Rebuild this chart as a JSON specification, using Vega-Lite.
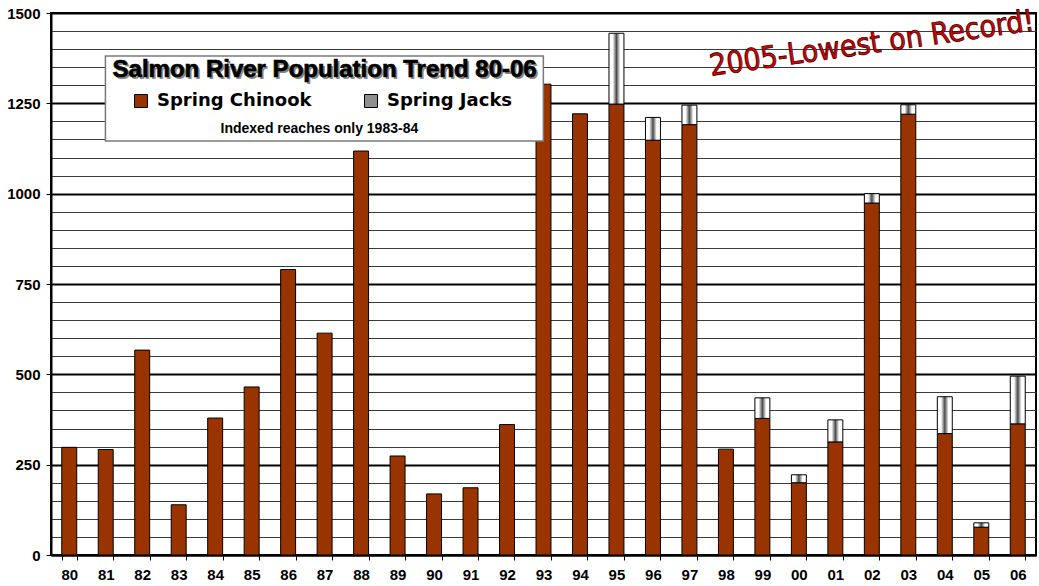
{
  "$schema": "https://vega.github.io/schema/vega-lite/v6.json",
  "autosize": {"type": "none"},
  "width": 985,
  "height": 542,
  "padding": {"left": 51, "top": 13, "right": 3, "bottom": 31},
  "background": "white",
  "config": {
    "view": {"stroke": "black", "strokeWidth": 2},
    "axis": {"labelFont": "Liberation Sans", "labelFontWeight": "bold", "labelColor": "black", "title": null}
  },
  "data": {"values": [
    {"year": "80", "chinook": 298, "total": 298},
    {"year": "81", "chinook": 292, "total": 292},
    {"year": "82", "chinook": 567, "total": 567},
    {"year": "83", "chinook": 139, "total": 139},
    {"year": "84", "chinook": 379, "total": 379},
    {"year": "85", "chinook": 465, "total": 465},
    {"year": "86", "chinook": 790, "total": 790},
    {"year": "87", "chinook": 614, "total": 614},
    {"year": "88", "chinook": 1118, "total": 1118},
    {"year": "89", "chinook": 274, "total": 274},
    {"year": "90", "chinook": 169, "total": 169},
    {"year": "91", "chinook": 186, "total": 186},
    {"year": "92", "chinook": 361, "total": 361},
    {"year": "93", "chinook": 1303, "total": 1303},
    {"year": "94", "chinook": 1221, "total": 1221},
    {"year": "95", "chinook": 1248, "total": 1444},
    {"year": "96", "chinook": 1148, "total": 1211},
    {"year": "97", "chinook": 1191, "total": 1245},
    {"year": "98", "chinook": 293, "total": 293},
    {"year": "99", "chinook": 378, "total": 435},
    {"year": "00", "chinook": 200, "total": 222},
    {"year": "01", "chinook": 313, "total": 374},
    {"year": "02", "chinook": 974, "total": 1000},
    {"year": "03", "chinook": 1220, "total": 1246},
    {"year": "04", "chinook": 336, "total": 438},
    {"year": "05", "chinook": 77, "total": 89},
    {"year": "06", "chinook": 363, "total": 495}
  ]},
  "layer": [
    {
      "mark": {"type": "bar", "stroke": "black", "strokeWidth": 1},
      "encoding": {
        "x": {
          "field": "year", "type": "nominal", "sort": null,
          "scale": {"type": "band", "paddingInner": 0.59, "paddingOuter": 0.295,
            "domain": ["80","81","82","83","84","85","86","87","88","89","90","91","92","93","94","95","96","97","98","99","00","01","02","03","04","05","06"]},
          "axis": {"labelAngle": 0, "labelFontSize": 15, "tickBand": "extent", "tickSize": 5, "tickColor": "black", "tickWidth": 1,
            "domainColor": "black", "domainWidth": 2, "labelPadding": 7, "grid": false}
        },
        "y": {
          "field": "chinook", "type": "quantitative",
          "scale": {"domain": [0, 1500], "nice": false, "zero": true},
          "axis": {
            "values": [0,50,100,150,200,250,300,350,400,450,500,550,600,650,700,750,800,850,900,950,1000,1050,1100,1150,1200,1250,1300,1350,1400,1450,1500],
            "tickCount": 100,
            "format": "d",
            "labelExpr": "datum.value % 250 === 0 ? datum.label : ''",
            "labelFontSize": 15,
            "grid": true,
            "gridColor": {"condition": {"test": "datum.value % 250 === 0", "value": "black"}, "value": "#3a3a3a"},
            "gridWidth": {"condition": {"test": "datum.value % 250 === 0", "value": 2}, "value": 1},
            "gridOpacity": 1,
            "tickSize": 5,
            "tickColor": "black",
            "tickOpacity": {"condition": {"test": "datum.value % 250 === 0", "value": 1}, "value": 0},
            "domainColor": "black", "domainWidth": 2, "labelPadding": 6
          }
        },
        "color": {
          "datum": "Spring Chinook",
          "scale": {
            "domain": ["Spring Chinook", "Spring Jacks"],
            "range": ["#993300", "#8f8f8f"]
          },
          "legend": {
            "orient": "none", "legendX": 81, "legendY": 79, "direction": "horizontal", "title": null,
            "symbolType": "square", "symbolSize": 169, "symbolStrokeColor": "black", "symbolStrokeWidth": 1,
            "labelFont": "DejaVu Sans", "labelFontWeight": "bold", "labelFontSize": 18, "labelColor": "black",
            "labelOffset": 7, "columnPadding": 50, "padding": 0, "labelLimit": 300,
            "symbolOpacity": 1
          }
        }
      }
    },
    {
      "transform": [{"filter": "datum.total > datum.chinook"}],
      "mark": {"type": "bar", "stroke": "black", "strokeWidth": 1,
        "fill": {"gradient": "linear", "x1": 0, "x2": 1, "y1": 0, "y2": 0,
          "stops": [{"offset": 0, "color": "#ffffff"}, {"offset": 0.25, "color": "#ffffff"}, {"offset": 0.5, "color": "#4a4a4a"}, {"offset": 0.75, "color": "#ffffff"}, {"offset": 1, "color": "#ffffff"}]}},
      "encoding": {
        "x": {"field": "year", "type": "nominal", "sort": null},
        "y": {
          "field": "total", "type": "quantitative",
          "axis": {
            "values": [0,50,100,150,200,250,300,350,400,450,500,550,600,650,700,750,800,850,900,950,1000,1050,1100,1150,1200,1250,1300,1350,1400,1450,1500],
            "tickCount": 100,
            "format": "d",
            "labelExpr": "datum.value % 250 === 0 ? datum.label : ''",
            "labelFontSize": 15,
            "grid": true,
            "gridColor": {"condition": {"test": "datum.value % 250 === 0", "value": "black"}, "value": "#3a3a3a"},
            "gridWidth": {"condition": {"test": "datum.value % 250 === 0", "value": 2}, "value": 1},
            "gridOpacity": 1,
            "tickSize": 5,
            "tickColor": "black",
            "tickOpacity": {"condition": {"test": "datum.value % 250 === 0", "value": 1}, "value": 0},
            "domainColor": "black", "domainWidth": 2, "labelPadding": 6
          }
        },
        "y2": {"field": "chinook"}
      }
    },
    {
      "data": {"values": [{"t": "box"}]},
      "mark": {"type": "rect", "fill": "white", "stroke": "#7a7a7a", "strokeWidth": 1.5},
      "encoding": {
        "x": {"datum": "81", "bandPosition": 0.48},
        "x2": {"datum": "93", "bandPosition": 0.49},
        "y": {"datum": 1381},
        "y2": {"datum": 1146}
      }
    },
    {
      "data": {"values": [{"t": "Salmon River Population Trend 80-06"}]},
      "mark": {"type": "text", "font": "Liberation Sans", "fontWeight": "bold", "fontSize": 24, "fill": "#888888", "align": "center", "baseline": "alphabetic", "dx": 2, "dy": 2},
      "encoding": {
        "x": {"datum": "87", "bandPosition": 0.5},
        "y": {"datum": 1323},
        "text": {"field": "t"}
      }
    },
    {
      "data": {"values": [{"t": "Salmon River Population Trend 80-06"}]},
      "mark": {"type": "text", "font": "Liberation Sans", "fontWeight": "bold", "fontSize": 24, "fill": "black", "stroke": "black", "strokeWidth": 0.7, "align": "center", "baseline": "alphabetic"},
      "encoding": {
        "x": {"datum": "87", "bandPosition": 0.5},
        "y": {"datum": 1323},
        "text": {"field": "t"}
      }
    },
    {
      "data": {"values": [{"t": "Indexed reaches only 1983-84"}]},
      "mark": {"type": "text", "font": "Liberation Sans", "fontWeight": "bold", "fontSize": 14, "fill": "black", "align": "center", "baseline": "alphabetic"},
      "encoding": {
        "x": {"datum": "87", "bandPosition": 0.15},
        "y": {"datum": 1168},
        "text": {"field": "t"}
      }
    },
    {
      "data": {"values": [{"t": "2005-Lowest on Record!"}]},
      "mark": {"type": "text", "font": "DejaVu Sans Condensed, Liberation Sans", "fontSize": 30, "fill": "#e00000", "stroke": "#3a0000", "strokeWidth": 0.8, "align": "center", "baseline": "middle", "angle": 352},
      "encoding": {
        "x": {"datum": "02", "bandPosition": 0.5},
        "y": {"datum": 1414},
        "text": {"field": "t"}
      }
    }
  ]
}
